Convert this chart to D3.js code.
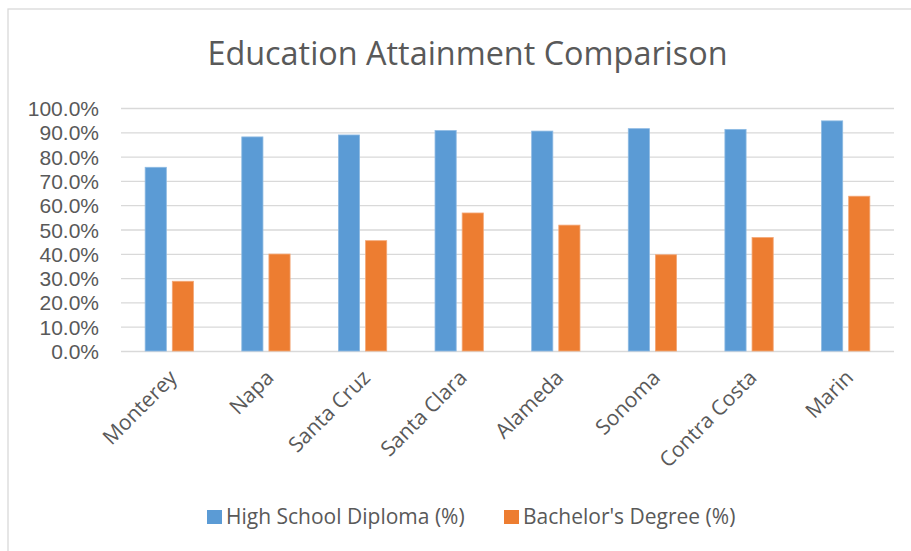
<!DOCTYPE html>
<html>
<head>
<meta charset="utf-8">
<script src="https://cdn.jsdelivr.net/npm/d3@7"></script>
<style>
  html, body { margin: 0; padding: 0; background: #fff; }
  svg { display: block; font-family: "Open Sans", "Noto Sans", sans-serif; }
</style>
</head>
<body>
<svg id="chart" width="911" height="551"></svg>
<script>
const categories = ["Monterey", "Napa", "Santa Cruz", "Santa Clara", "Alameda", "Sonoma", "Contra Costa", "Marin"];
const seriesNames = ["High School Diploma (%)", "Bachelor's Degree (%)"];
const highSchool = [75.6, 88.1, 88.9, 90.7, 90.5, 91.5, 91.2, 94.7];
const bachelor = [28.7, 39.9, 45.4, 56.8, 51.8, 39.6, 46.7, 63.7];
const yTicks = [0, 10, 20, 30, 40, 50, 60, 70, 80, 90, 100];
const title = "Education Attainment Comparison";

const colors = ["#5B9BD5", "#ED7D31"];
const edgeColors = ["#8DBAE3", "#F3A777"];
const textColor = "#595959";
const gridColor = "#D9D9D9";

const svg = d3.select("#chart");
const W = 911, H = 551;
const plot = { left: 121, right: 894, top: 108, bottom: 351 };

// chart frame
svg.append("rect").attr("x", 8).attr("y", 9).attr("width", W + 20).attr("height", H + 20)
  .attr("fill", "#fff").attr("stroke", gridColor).attr("stroke-width", 1.3);

// title
svg.append("text").attr("x", 467.5).attr("y", 65).attr("text-anchor", "middle")
  .attr("font-size", 32.4).attr("fill", textColor).text(title);

const x = d3.scaleBand().domain(categories).range([plot.left, plot.right]).padding(0);
const xs = d3.scaleBand().domain(seriesNames)
  .range([x.bandwidth() * 0.25, x.bandwidth() * 0.75]).paddingInner(0.22);
const y = d3.scaleLinear().domain([0, 100]).range([plot.bottom, plot.top]);

// gridlines + y labels
const yAxis = d3.axisLeft(y).tickValues(yTicks).tickSize(-(plot.right - plot.left))
  .tickPadding(22).tickFormat(d => d3.format(".1f")(d) + "%");
const gy = svg.append("g").attr("transform", `translate(${plot.left},0)`).call(yAxis);
gy.select(".domain").remove();
gy.selectAll(".tick line").attr("stroke", gridColor).attr("stroke-width", 1.3);
gy.selectAll(".tick text").attr("fill", textColor).attr("font-size", 21)
  .attr("font-family", "'Liberation Sans', Arial, sans-serif").attr("dy", "0.36em");

// bars
const data = categories.map((c, i) => ({ cat: c, vals: [highSchool[i], bachelor[i]] }));
const groups = svg.append("g").selectAll("g").data(data).join("g")
  .attr("transform", d => `translate(${x(d.cat)},0)`);
groups.selectAll("rect").data(d => d.vals.map((v, j) => ({ s: seriesNames[j], v, j })))
  .join("rect")
  .attr("x", d => xs(d.s))
  .attr("width", xs.bandwidth())
  .attr("y", d => y(d.v))
  .attr("height", d => y(0) - y(d.v))
  .attr("fill", d => colors[d.j])
  .attr("stroke", d => edgeColors[d.j])
  .attr("stroke-width", 0.8);

// x labels
const xAxis = d3.axisBottom(x).tickSize(0).tickPadding(0);
const gx = svg.append("g").attr("transform", `translate(0,${plot.bottom})`).call(xAxis);
gx.select(".domain").remove();
gx.selectAll(".tick text")
  .attr("fill", textColor).attr("font-size", 21)
  .attr("font-family", "'Open Sans', sans-serif")
  .attr("text-anchor", "end")
  .attr("dy", 0).attr("y", 0)
  .attr("transform", "translate(9,28) rotate(-45)");

// legend
const legendItems = [
  { name: seriesNames[0], color: colors[0], sx: 207 },
  { name: seriesNames[1], color: colors[1], sx: 504 }
];
const lg = svg.append("g").selectAll("g").data(legendItems).join("g");
lg.append("rect").attr("x", d => d.sx).attr("y", 510).attr("width", 15).attr("height", 14)
  .attr("fill", d => d.color);
lg.append("text").attr("x", d => d.sx + 19).attr("y", 524)
  .attr("font-size", 21).attr("fill", textColor).text(d => d.name);
</script>
</body>
</html>
